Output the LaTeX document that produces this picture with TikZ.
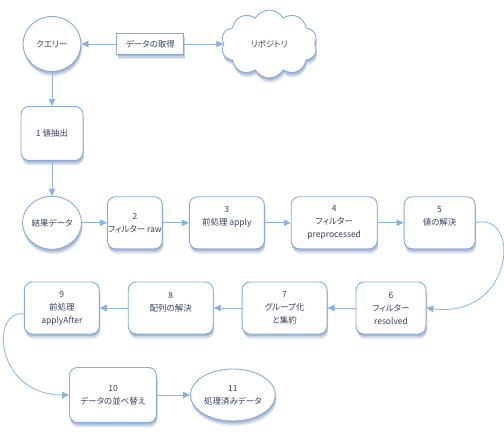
\documentclass[tikz,border=0pt]{standalone}
\usepackage{fontspec}
\setmainfont[RawFeature=+palt]{Noto Sans CJK JP}
\usepackage{tikz}
\usetikzlibrary{positioning,shapes.geometric,shapes.symbols,shadows,arrows.meta}
\definecolor{edge}{HTML}{8DB0DC}
\definecolor{rim}{HTML}{86AADA}
\definecolor{ink}{HTML}{3B405E}
\definecolor{shade}{HTML}{4F6E9E}

\begin{document}
\begin{tikzpicture}[x=1pt, y=1pt, font={\fontsize{8.5}{13}\selectfont}, text=ink, node distance=26pt, >={Triangle[length=7pt,width=6.5pt]}]
  \tikzset{soft/.style={drop shadow={shadow xshift=1pt, shadow yshift=-5pt, fill=shade, opacity=.15}, drop shadow={shadow xshift=1pt, shadow yshift=-3.5pt, fill=shade, opacity=.2}, drop shadow={shadow xshift=0.5pt, shadow yshift=-2pt, fill=shade, opacity=.25}}}
  \tikzstyle{proc}=[draw=rim, fill=white, line width=0.9pt, rounded corners=8pt, minimum height=52pt, inner xsep=2pt, align=center, soft]
  \tikzstyle{term}=[draw=rim, fill=white, line width=0.9pt, ellipse, inner sep=0pt, align=center, soft]
  \tikzstyle{action}=[draw=rim, fill=white, line width=0.9pt, minimum width=67pt, minimum height=21pt, soft]
  \tikzstyle{store}=[draw=rim, fill=white, line width=0.9pt, cloud, cloud puffs=10, cloud puff arc=120, cloud ignores aspect, inner sep=0pt, minimum width=96pt, minimum height=68pt, soft]
  \tikzstyle{flow}=[->, draw=edge, line width=0.8pt]
  \useasboundingbox (0,0) rectangle (504,436);
  \node[term, minimum width=58pt, minimum height=55pt] (query) at (52,392) {クエリー};
  \node[action, right=35pt of query] (fetch) {データの取得};
  \node[store, right=39pt of fetch] (repo) {リポジトリ};
  \node[proc, below=34pt of query, minimum width=62pt, minimum height=54pt] (extract) {1 値抽出};
  \node[term, below=35pt of extract, minimum width=59pt, minimum height=53pt] (result) {結果データ};
  \node[proc, right=25pt of result, minimum width=55pt, inner xsep=0pt] (filterraw) {2\\フィルター raw};
  \node[proc, right=of filterraw, minimum width=75pt] (apply) {3\\前処理 apply\\~};
  \node[proc, right=of apply, minimum width=86pt] (filterpre) {4\\フィルター\\preprocessed};
  \node[proc, right=of filterpre, minimum width=71pt] (resolve) {5\\値の解決\\~};
  \node[proc, minimum width=70pt] (filterres) at (391,128) {6\\フィルター\\resolved};
  \node[proc, left=28pt of filterres, minimum width=85pt] (group) {7\\グループ化\\と集約};
  \node[proc, left=28pt of group, minimum width=85pt] (arrays) {8\\配列の解決\\~};
  \node[proc, left=28pt of arrays, minimum width=75pt] (after) {9\\前処理\\applyAfter};
  \node[proc, minimum width=87pt, minimum height=55pt] (sorting) at (113,41) {10\\データの並べ替え};
  \node[term, right=33pt of sorting, minimum width=85pt, minimum height=52pt] (done) {11\\処理済みデータ};
  \draw[flow] (fetch) -- (query);
  \draw[flow] (fetch) -- (repo);
  \draw[flow] (query) -- (extract);
  \draw[flow] (extract) -- (result);
  \draw[flow] (result) -- (filterraw);
  \draw[flow] (filterraw) -- (apply);
  \draw[flow] (apply) -- (filterpre);
  \draw[flow] (filterpre) -- (resolve);
  \draw[flow] (resolve.east) .. controls +(46,12) and +(88,-11) .. (filterres.east);
  \draw[flow] (filterres) -- (group);
  \draw[flow] (group) -- (arrays);
  \draw[flow] (arrays) -- (after);
  \draw[flow] ([yshift=-6pt]after.west) .. controls +(-34,5) and +(-74,0) .. (sorting.west);
  \draw[flow] (sorting) -- (done);
\end{tikzpicture}
\end{document}
